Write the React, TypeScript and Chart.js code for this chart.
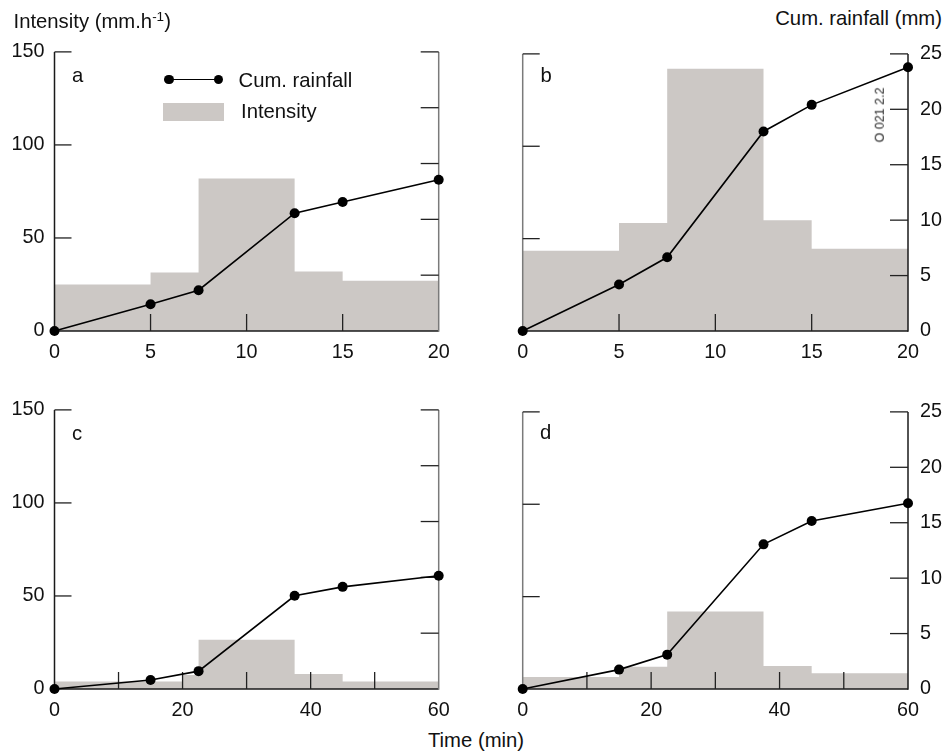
import React, { useEffect, useRef } from 'react';
import { Chart, registerables } from 'chart.js';

Chart.register(...registerables);

// ---------------- data ----------------
const timeShort = [0, 5, 7.5, 12.5, 15, 20];
const timeLong = [0, 15, 22.5, 37.5, 45, 60];

const cumRainA = [0, 2.4, 3.65, 10.55, 11.55, 13.55];
const cumRainB = [0, 4.2, 6.65, 18.0, 20.4, 23.8];
const cumRainC = [0, 0.8, 1.6, 8.35, 9.15, 10.15];
const cumRainD = [0, 1.75, 3.1, 13.05, 15.15, 16.75];

const stepEdgesA = [0, 5, 7.5, 12.5, 15, 20];
const intensityA = [25, 31.5, 82, 32, 27];
const stepEdgesB = [0, 5, 7.5, 12.5, 15, 20];
const intensityB = [43.5, 58.5, 142, 60, 44.5];
const stepEdgesC = [0, 20, 22.5, 37.5, 45, 60];
const intensityC = [4, 7.5, 26.5, 8, 4];
const stepEdgesD = [0, 15, 22.5, 37.5, 45, 60];
const intensityD = [6.5, 12, 42, 12.5, 8.5];

const intensityTicks = [0, 50, 100, 150];
const rainTicks = [0, 5, 10, 15, 20, 25];
const timeTickMarksShort = [0, 5, 10, 15, 20];
const timeTickMarksLong = [0, 10, 20, 30, 40, 50, 60];

// ---------------- styles ----------------
const FONT = "'Liberation Sans', Arial, Helvetica, sans-serif";
const GRAY = '#ccc8c5';
const DARK = '#1a1a1a';
const AXIS_GRAY = '#7a7a7a';
const TICK_SIZE = 19.8;
const TEXT_SIZE = 20.3;

type Panel = {
  key: string;
  times: number[];
  cum: number[];
  edges: number[];
  intensity: number[];
  xMax: number;
  xStep: number;
  xMarks: number[];
  showLeft: boolean;
  showRight: boolean;
  left: number;
  top: number;
  width: number;
  height: number;
  leftW: number;
  rightW: number;
};

const panels: Panel[] = [
  { key: 'a', times: timeShort, cum: cumRainA, edges: stepEdgesA, intensity: intensityA, xMax: 20, xStep: 5, xMarks: timeTickMarksShort, showLeft: true, showRight: false, left: 0, top: 30, width: 470, height: 330, leftW: 54.5, rightW: 31.3 },
  { key: 'b', times: timeShort, cum: cumRainB, edges: stepEdgesB, intensity: intensityB, xMax: 20, xStep: 5, xMarks: timeTickMarksShort, showLeft: false, showRight: true, left: 470, top: 30, width: 477, height: 330, leftW: 52.7, rightW: 39 },
  { key: 'c', times: timeLong, cum: cumRainC, edges: stepEdgesC, intensity: intensityC, xMax: 60, xStep: 20, xMarks: timeTickMarksLong, showLeft: true, showRight: false, left: 0, top: 388, width: 470, height: 330, leftW: 54.5, rightW: 31.3 },
  { key: 'd', times: timeLong, cum: cumRainD, edges: stepEdgesD, intensity: intensityD, xMax: 60, xStep: 20, xMarks: timeTickMarksLong, showLeft: false, showRight: true, left: 470, top: 388, width: 477, height: 330, leftW: 52.7, rightW: 39 },
];

const PAD_TOP = 17;
const X_AXIS_H = 29;

function makeAxesPlugin(p: Panel) {
  return {
    id: 'panelAxes' + p.key,
    afterDatasetDraw(chart: any, args: any) {
      if (args.index !== 1) return;
      const { ctx, chartArea: a, scales } = chart;
      const xs = scales.x;
      const yl = scales.yL;
      const yr = scales.yR;
      const seg = (x1: number, y1: number, x2: number, y2: number, color: string, w: number) => {
        ctx.beginPath();
        ctx.strokeStyle = color;
        ctx.lineWidth = w;
        ctx.moveTo(x1, y1);
        ctx.lineTo(x2, y2);
        ctx.stroke();
      };
      ctx.save();
      ctx.lineCap = 'butt';
      // axis lines
      seg(a.left, a.bottom, a.right, a.bottom, DARK, 1.5);
      seg(a.left, a.bottom + 0.75, a.left, a.top, p.showLeft ? DARK : AXIS_GRAY, 1.5);
      seg(a.right, a.bottom + 0.75, a.right, a.top, p.showRight ? DARK : AXIS_GRAY, 1.5);
      // inward tick marks
      p.xMarks.forEach((v) => {
        if (v === 0 || v === p.xMax) return;
        const px = xs.getPixelForValue(v);
        seg(px, a.bottom, px, a.bottom - 17, '#222', 1.3);
      });
      intensityTicks.forEach((v) => {
        if (v === 0) return;
        const py = yl.getPixelForValue(v);
        seg(a.left, py, a.left + 17, py, '#222', 1.3);
      });
      rainTicks.forEach((v) => {
        if (v === 0) return;
        const py = yr.getPixelForValue(v);
        seg(a.right - 18, py, a.right, py, '#222', 1.3);
      });
      ctx.restore();
    },
  };
}

function PanelChart({ p }: { p: Panel }) {
  const ref = useRef<HTMLCanvasElement | null>(null);
  useEffect(() => {
    if (!ref.current) return;
    const stepData = p.intensity.map((v, i) => ({ x: p.edges[i], y: v }));
    stepData.push({ x: p.edges[p.edges.length - 1], y: p.intensity[p.intensity.length - 1] });
    const cumData = p.times.map((t, i) => ({ x: t, y: p.cum[i] }));
    const tickFont = { family: FONT, size: TICK_SIZE };
    const chart = new Chart(ref.current, {
      type: 'line',
      data: {
        datasets: [
          {
            label: 'Cum. rainfall',
            data: cumData,
            yAxisID: 'yR',
            borderColor: '#000',
            borderWidth: 1.6,
            pointRadius: 5,
            pointHoverRadius: 5,
            pointBackgroundColor: '#000',
            pointBorderColor: '#000',
            pointBorderWidth: 0,
            tension: 0,
            fill: false,
            clip: false,
            order: 1,
          } as any,
          {
            label: 'Intensity',
            data: stepData,
            yAxisID: 'yL',
            stepped: 'before',
            fill: 'origin',
            backgroundColor: GRAY,
            borderColor: GRAY,
            borderWidth: 0,
            pointRadius: 0,
            clip: false,
            order: 2,
          } as any,
        ],
      },
      options: {
        animation: false,
        responsive: false,
        maintainAspectRatio: false,
        devicePixelRatio: 1,
        events: [],
        layout: { padding: { top: PAD_TOP, left: 0, right: 0, bottom: 0 } },
        plugins: {
          legend: { display: false },
          tooltip: { enabled: false },
          title: { display: false },
        },
        scales: {
          x: {
            type: 'linear',
            position: 'bottom',
            min: 0,
            max: p.xMax,
            grid: { display: false, drawTicks: false },
            border: { display: false },
            ticks: { stepSize: p.xStep, autoSkip: false, maxRotation: 0, padding: 10, color: '#111', font: tickFont },
            afterFit: (s: any) => { s.height = X_AXIS_H; },
          },
          yL: {
            type: 'linear',
            position: 'left',
            min: 0,
            max: 150,
            grid: { display: false, drawTicks: false },
            border: { display: false },
            ticks: { display: p.showLeft, stepSize: 50, padding: 10, color: '#111', font: tickFont },
            afterFit: (s: any) => { s.width = p.leftW; },
          },
          yR: {
            type: 'linear',
            position: 'right',
            min: 0,
            max: 25,
            grid: { display: false, drawTicks: false },
            border: { display: false },
            ticks: { display: p.showRight, stepSize: 5, padding: 12, color: '#111', font: tickFont },
            afterFit: (s: any) => { s.width = p.rightW; },
          },
        },
      } as any,
      plugins: [makeAxesPlugin(p)],
    });
    return () => chart.destroy();
  }, [p]);
  return (
    <canvas
      ref={ref}
      width={p.width}
      height={p.height}
      style={{ position: 'absolute', left: p.left, top: p.top, width: p.width, height: p.height }}
    />
  );
}

// text helper: place by baseline (Liberation Sans metrics, line-height 1)
function Txt({ x, baseline, size = TEXT_SIZE, children, align = 'left', style = {} }: any) {
  const top = baseline - size * 0.8465;
  const base: any = {
    position: 'absolute',
    top,
    fontSize: size,
    lineHeight: 1,
    fontFamily: FONT,
    color: '#111',
    whiteSpace: 'nowrap',
  };
  if (align === 'left') base.left = x;
  else if (align === 'right') base.right = 947 - x;
  else { base.left = x; base.transform = 'translateX(-50%)'; }
  return <div style={{ ...base, ...style }}>{children}</div>;
}

export default function App() {
  return (
    <div style={{ position: 'absolute', left: 0, top: 0, width: 947, height: 754, background: '#fff', overflow: 'hidden' }}>
      {panels.map((p) => (
        <PanelChart key={p.key} p={p} />
      ))}

      {/* axis titles */}
      <Txt x={13.5} baseline={28.3}>
        Intensity (mm.h<span style={{ fontSize: 13.5, position: 'relative', top: -7 }}>-1</span>)
      </Txt>
      <Txt x={942} baseline={25} align="right">Cum. rainfall (mm)</Txt>
      <Txt x={476} baseline={746.7} align="center">Time (min)</Txt>

      {/* panel letters */}
      <Txt x={72} baseline={81.7}>a</Txt>
      <Txt x={540.5} baseline={81.7}>b</Txt>
      <Txt x={72} baseline={440}>c</Txt>
      <Txt x={540} baseline={439.5}>d</Txt>

      {/* figure code */}
      <div
        style={{
          position: 'absolute',
          left: 879.5,
          top: 115,
          transform: 'translate(-50%, -50%) rotate(-90deg)',
          fontFamily: FONT,
          fontSize: 12.5,
          lineHeight: 1,
          color: '#222',
          whiteSpace: 'nowrap',
        }}
      >
        O 021 2.2
      </div>

      {/* legend (panel a) */}
      <div style={{ position: 'absolute', left: 169, top: 78.5, width: 49.5, height: 1.6, background: '#000' }} />
      <div style={{ position: 'absolute', left: 169 - 4.75, top: 79.3 - 4.75, width: 9.5, height: 9.5, borderRadius: '50%', background: '#000' }} />
      <div style={{ position: 'absolute', left: 218.5 - 4.75, top: 79.3 - 4.75, width: 9.5, height: 9.5, borderRadius: '50%', background: '#000' }} />
      <Txt x={238.5} baseline={86.7}>Cum. rainfall</Txt>
      <div style={{ position: 'absolute', left: 163.3, top: 103.3, width: 60.7, height: 17.7, background: GRAY }} />
      <Txt x={241} baseline={118.3}>Intensity</Txt>
    </div>
  );
}
